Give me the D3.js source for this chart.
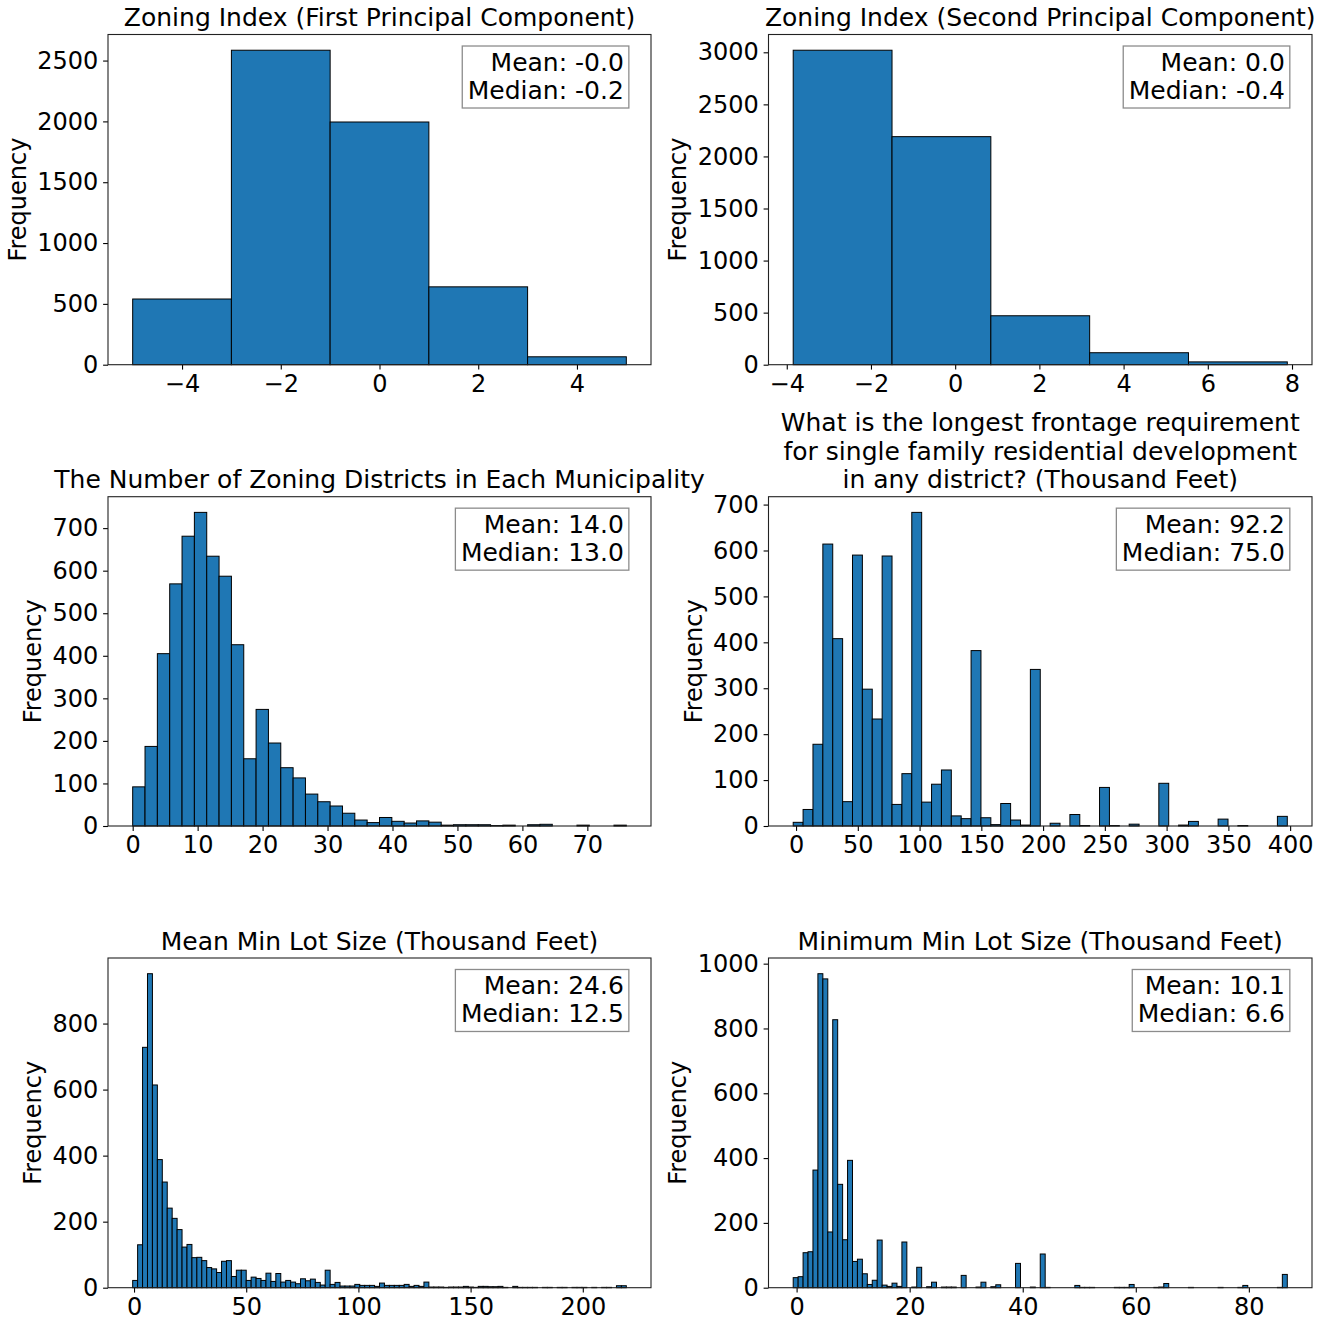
<!DOCTYPE html>
<html>
<head>
<meta charset="utf-8">
<script src="https://cdn.jsdelivr.net/npm/d3@7"></script>
<style>
  body { margin: 0; background: #fff; }
  svg { display: block; font-family: "DejaVu Sans", sans-serif; }
</style>
</head>
<body>
<svg id="chart"></svg>
<script>
// histogram counts
const pc1Counts = [540, 2585, 1995, 640, 65];
const pc2Counts = [3020, 2190, 470, 115, 27];
const districtCounts = [92, 187, 405, 569, 681, 737, 634, 587, 426, 158,
  274, 195, 137, 113, 75, 57, 47, 30, 14, 8,
  20, 11, 7, 12, 9, 2, 3, 3, 3, 1,
  2, 0, 3, 4, 0, 0, 2, 0, 0, 2];
const frontageCounts = [8, 36, 178, 614, 408, 53, 590, 298, 233, 588,
  47, 114, 683, 52, 91, 122, 22, 16, 382, 18,
  3, 49, 13, 2, 341, 0, 6, 0, 25, 1,
  0, 84, 1, 0, 4, 0, 0, 93, 0, 2,
  10, 0, 0, 15, 0, 1, 0, 0, 0, 21];
const meanLotCounts = [22, 130, 728, 951, 614, 388, 320, 241, 210, 176,
  123, 131, 91, 92, 82, 61, 57, 46, 80, 82,
  34, 53, 53, 22, 32, 28, 22, 44, 19, 43,
  17, 22, 17, 12, 27, 21, 26, 16, 8, 53,
  10, 16, 5, 5, 5, 10, 7, 7, 7, 4,
  14, 7, 7, 7, 7, 10, 4, 7, 4, 17,
  2, 2, 2, 1, 2, 2, 2, 4, 2, 1,
  4, 4, 3, 3, 4, 1, 0, 4, 1, 1,
  1, 1, 0, 1, 1, 0, 1, 1, 0, 1,
  1, 1, 0, 1, 0, 1, 1, 0, 6, 6];
const minLotCounts = [31, 34, 108, 111, 363, 969, 953, 172, 827, 319,
  148, 393, 81, 88, 43, 10, 23, 147, 8, 4,
  14, 4, 141, 0, 2, 63, 0, 3, 17, 0,
  2, 2, 2, 0, 38, 0, 0, 2, 17, 0,
  3, 9, 0, 0, 0, 75, 0, 0, 2, 0,
  104, 1, 0, 0, 0, 0, 0, 7, 1, 1,
  1, 0, 0, 0, 0, 1, 1, 1, 10, 0,
  0, 0, 0, 1, 2, 13, 0, 0, 0, 0,
  1, 0, 0, 0, 0, 0, 1, 0, 0, 0,
  1, 7, 0, 0, 0, 0, 0, 0, 1, 41];

// first bin edge and bin width of each histogram
const binStarts = [-5, -3.847, 0, -2.3, -0.6, -0.6];
const binWidths = [2, 2.347, 1.9, 8, 2.2, 0.874];

const titles = [
  ["Zoning Index (First Principal Component)"],
  ["Zoning Index (Second Principal Component)"],
  ["The Number of Zoning Districts in Each Municipality"],
  ["What is the longest frontage requirement", "for single family residential development", "in any district? (Thousand Feet)"],
  ["Mean Min Lot Size (Thousand Feet)"],
  ["Minimum Min Lot Size (Thousand Feet)"]
];

const statsLines = [
  ["Mean: -0.0", "Median: -0.2"],
  ["Mean: 0.0", "Median: -0.4"],
  ["Mean: 14.0", "Median: 13.0"],
  ["Mean: 92.2", "Median: 75.0"],
  ["Mean: 24.6", "Median: 12.5"],
  ["Mean: 10.1", "Median: 6.6"]
];

const xTicks = [
  [-4, -2, 0, 2, 4],
  [-4, -2, 0, 2, 4, 6, 8],
  [0, 10, 20, 30, 40, 50, 60, 70],
  [0, 50, 100, 150, 200, 250, 300, 350, 400],
  [0, 50, 100, 150, 200],
  [0, 20, 40, 60, 80]
];
const yTicks = [
  [0, 500, 1000, 1500, 2000, 2500],
  [0, 500, 1000, 1500, 2000, 2500, 3000],
  [0, 100, 200, 300, 400, 500, 600, 700],
  [0, 100, 200, 300, 400, 500, 600, 700],
  [0, 200, 400, 600, 800],
  [0, 200, 400, 600, 800, 1000]
];

const allCounts = [pc1Counts, pc2Counts, districtCounts, frontageCounts, meanLotCounts, minLotCounts];

const width = 1326, height = 1322;
const cols = [[108, 651], [768.5, 1312]];
const rows = [[34.5, 364.7], [496.7, 826], [958, 1287.7]];
const tickSize = 24;
const textSize = 25;

const svg = d3.select("#chart")
  .attr("width", width)
  .attr("height", height);

allCounts.forEach((counts, p) => {
  const [left, right] = cols[p % 2];
  const [top, bottom] = rows[Math.floor(p / 2)];
  const start = binStarts[p], bw = binWidths[p];
  const end = start + bw * counts.length;
  const pad = (end - start) * 0.05;

  const x = d3.scaleLinear().domain([start - pad, end + pad]).range([left, right]);
  const y = d3.scaleLinear().domain([0, d3.max(counts) * 1.05]).range([bottom, top]);

  const bins = counts.map((c, i) => ({x0: start + i * bw, x1: start + (i + 1) * bw, count: c}));

  const g = svg.append("g");

  g.selectAll("rect.bar")
    .data(bins)
    .join("rect")
    .attr("class", "bar")
    .attr("x", d => x(d.x0))
    .attr("width", d => x(d.x1) - x(d.x0))
    .attr("y", d => y(d.count))
    .attr("height", d => y(0) - y(d.count))
    .attr("fill", "#1f77b4")
    .attr("stroke", "#000")
    .attr("stroke-width", 1);

  // axes
  const xAxis = g.append("g")
    .attr("transform", `translate(0,${bottom})`)
    .call(d3.axisBottom(x).tickValues(xTicks[p]).tickSize(4.9).tickPadding(4.9));
  const yAxis = g.append("g")
    .attr("transform", `translate(${left},0)`)
    .call(d3.axisLeft(y).tickValues(yTicks[p]).tickSize(4.9).tickPadding(4.9).tickFormat(d3.format("d")));
  [xAxis, yAxis].forEach(a => {
    a.select(".domain").remove();
    a.attr("color", "#000");
    a.selectAll("line").attr("stroke-width", 1.1);
    a.selectAll("text")
      .attr("font-family", "DejaVu Sans")
      .attr("font-size", tickSize)
      .attr("fill", "#000");
  });

  // frame
  g.append("rect")
    .attr("x", left).attr("y", top)
    .attr("width", right - left).attr("height", bottom - top)
    .attr("fill", "none")
    .attr("stroke", "#222")
    .attr("stroke-width", 1.1);

  // y label, placed left of the widest tick label
  const labLeft = d3.min(yAxis.selectAll("text").nodes(), n => {
    const b = n.getBBox();
    return left + b.x;
  });
  const ylx = labLeft - 5.6 - 0.236 * tickSize;
  g.append("text")
    .attr("transform", `translate(${ylx},${(top + bottom) / 2}) rotate(-90)`)
    .attr("text-anchor", "middle")
    .attr("font-size", tickSize)
    .attr("fill", "#000")
    .text("Frequency");

  // title
  const t = titles[p];
  g.append("text")
    .attr("text-anchor", "middle")
    .attr("font-size", textSize)
    .attr("fill", "#000")
    .selectAll("tspan")
    .data(t)
    .join("tspan")
    .attr("x", (left + right) / 2)
    .attr("y", (d, i) => top - 8.3 - (t.length - 1 - i) * 28.8)
    .text(d => d);

  // stats box
  const tx = left + 0.95 * (right - left);
  const boxTop = top + 0.05 * (bottom - top) - 5;
  const box = g.append("rect");
  const st = g.append("text")
    .attr("text-anchor", "end")
    .attr("font-size", textSize)
    .attr("fill", "#000");
  st.selectAll("tspan")
    .data(statsLines[p])
    .join("tspan")
    .attr("x", tx)
    .attr("y", (d, i) => boxTop + 24.5 + i * 28)
    .text(d => d);
  const sb = st.node().getBBox();
  box.attr("x", sb.x - 5.5)
    .attr("y", boxTop)
    .attr("width", sb.width + 10.5)
    .attr("height", 62)
    .attr("fill", "#fff")
    .attr("stroke", "#8c8c8c")
    .attr("stroke-width", 1.3);
});
</script>
</body>
</html>
